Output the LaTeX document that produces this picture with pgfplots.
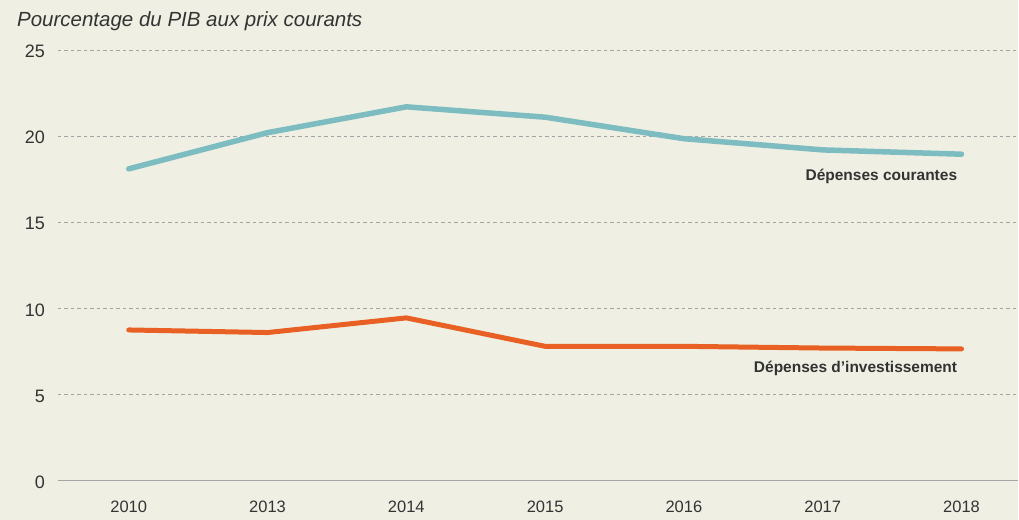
\documentclass[border=0pt]{standalone}
\usepackage{fontspec}
\setmainfont{Liberation Sans}
\usepackage{pgfplots}
\pgfplotsset{compat=1.18}
\definecolor{bg}{RGB}{239,240,227}
\definecolor{tealc}{RGB}{125,188,192}
\definecolor{orng}{RGB}{232,96,36}
\definecolor{txt}{RGB}{51,51,51}
\definecolor{grd}{RGB}{165,165,165}
\begin{document}
\begin{tikzpicture}
\fill[bg] (-58bp,-39bp) rectangle (961bp,481bp);
\node[anchor=base west, inner sep=0pt, text=txt, font=\fontsize{20.5bp}{24bp}\selectfont\itshape] at (-41bp,454bp) {Pourcentage du PIB aux prix courants};
\begin{axis}[
  at={(0,0)}, anchor=south west,
  scale only axis, width=961bp, height=431bp,
  xmin=-0.51, xmax=6.41, ymin=0, ymax=25,
  axis line style={draw=none},
  tick style={draw=none},
  xtick={0,1,2,3,4,5,6},
  xticklabels={2010,2013,2014,2015,2016,2017,2018},
  ytick={5,10,15,20,25},
  extra y ticks={0},
  extra y tick style={grid style={solid, grd, line width=1.2bp}},
  ymajorgrids,
  grid style={grd, dash pattern=on 3.5bp off 3bp, line width=0.9bp},
  /pgf/number format/assume math mode=true,
  tick label style={text=txt, inner sep=0pt},
  yticklabel style={anchor=east, yshift=-1.5bp, font=\fontsize{18bp}{21bp}\selectfont},
  yticklabel shift=13bp,
  xticklabel style={anchor=north, font=\fontsize{16.5bp}{19bp}\selectfont},
  xticklabel shift=20bp,
  clip=false,
]
\addplot[tealc, line width=5.5bp, line cap=round, line join=round] coordinates {(0,18.1)(1,20.2)(2,21.7)(3,21.1)(4,19.85)(5,19.2)(6,18.95)};
\addplot[orng, line width=5bp, line cap=round, line join=round] coordinates {(0,8.75)(1,8.6)(2,9.45)(3,7.8)(4,7.8)(5,7.7)(6,7.65)};
\node[anchor=base east, inner sep=0pt, text=txt, font=\fontsize{15.5bp}{18bp}\selectfont\bfseries] at (axis cs:5.97,17.42) {Dépenses courantes};
\node[anchor=base east, inner sep=0pt, text=txt, font=\fontsize{15.5bp}{18bp}\selectfont\bfseries] at (axis cs:5.97,6.28) {Dépenses d’investissement};
\end{axis}
\end{tikzpicture}
\end{document}
